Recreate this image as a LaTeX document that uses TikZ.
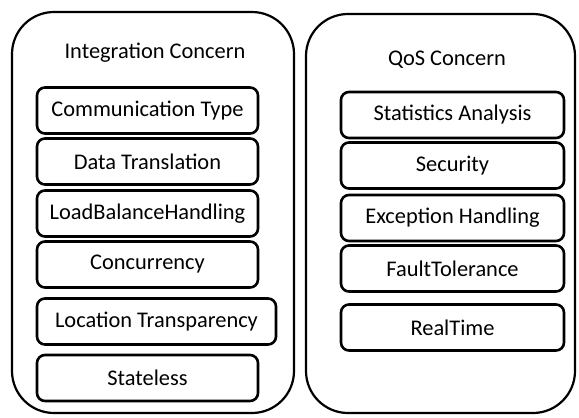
\documentclass[tikz,border=0pt]{standalone}
\usepackage{fontspec}
\setmainfont{Carlito}
\begin{document}
\begin{tikzpicture}[x=0.5pt, y=-0.5pt,
    concern/.style={line width=1.1pt, rounded corners=21pt},
    title/.style={font=\fontsize{11.2}{13}\selectfont},
    item/.style={draw, line width=1.3pt, rounded corners=4pt, minimum height=23pt,
                 font=\fontsize{11.2}{13}\selectfont}]
      \useasboundingbox (0, 0) rectangle (579, 418);
      % two concern panels
      \draw[concern] (12, 12) rectangle (294, 413)
                     (306, 14) rectangle (575, 413);
      \node[title] (integ) at (155, 53) {Integration Concern};
      \node[title] (qos) at (447, 60) {QoS Concern};
      % integration items
      \node[item, minimum width=110.5pt] (comm) at (147.5, 110.5) {Communication Type};
      \node[item, minimum width=110.5pt] (data) at (147.5, 161.5) {Data Translation};
      \node[item, minimum width=110.5pt] (load) at (147.5, 213.5) {LoadBalanceHandling};
      \node[item, minimum width=110.5pt] (conc) at (147.5, 264.5) {Concurrency};
      \node[item, minimum width=119.5pt] (loc) at (156.5, 321.5) {Location Transparency};
      \node[item, minimum width=110.5pt] (state) at (147.5, 378) {Stateless};
      % qos items
      \node[item, minimum width=111.5pt] (stat) at (452.5, 115) {Statistics Analysis};
      \node[item, minimum width=111.5pt] (sec) at (452.5, 165.5) {Security};
      \node[item, minimum width=111.5pt] (exc) at (452.5, 218) {Exception Handling};
      \node[item, minimum width=111.5pt] (fault) at (452.5, 268.5) {FaultTolerance};
      \node[item, minimum width=111.5pt] (real) at (452.5, 327.5) {RealTime};
\end{tikzpicture}
\end{document}
